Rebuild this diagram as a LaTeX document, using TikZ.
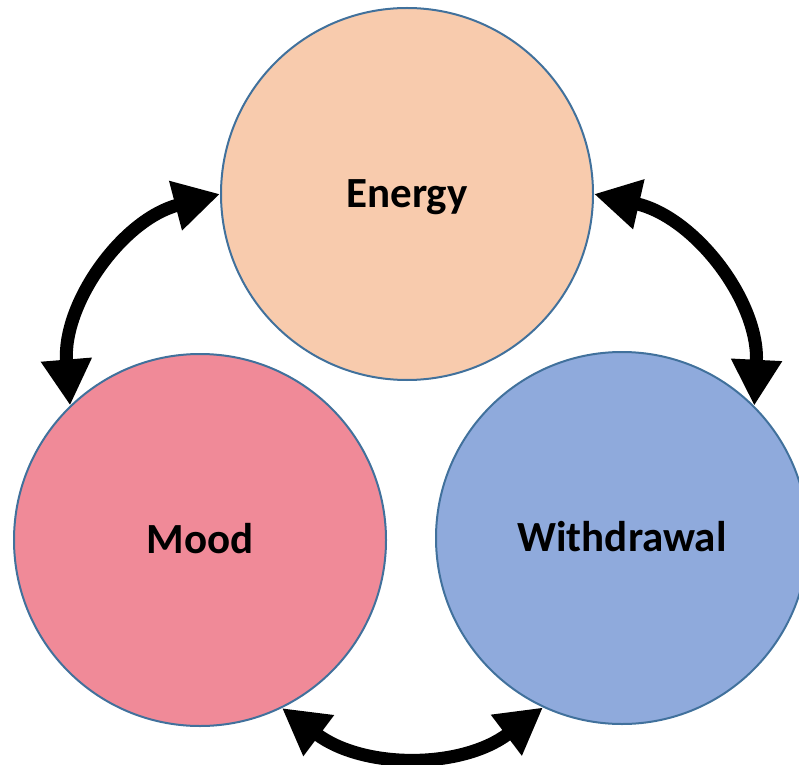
\documentclass[tikz,border=0pt]{standalone}
\usepackage{fontspec}
\setmainfont{Carlito}
\usetikzlibrary{arrows.meta}
\definecolor{energyfill}{HTML}{F8CBAD}
\definecolor{moodfill}{HTML}{F08A98}
\definecolor{withdrawfill}{HTML}{8FAADC}
\definecolor{rimblue}{HTML}{41719C}

\begin{document}
\begin{tikzpicture}[x=1pt,y=1pt,
  blob/.style={circle,draw=rimblue,line width=2pt,minimum size=372pt,inner sep=0pt,
               text height=27.7pt,text depth=0pt,
               font=\fontsize{43}{50}\selectfont\bfseries},
  a/.style={{Triangle[length=46pt,width=48pt]}-{Triangle[length=46pt,width=48pt]},line width=13pt,black}]
\clip (0,0) rectangle (799,764);
\node[blob,fill=energyfill] (energy) at (407,570) {Energy};
\node[blob,fill=moodfill] (mood) at (200,224) {Mood};
\node[blob,fill=withdrawfill] (withdraw) at (622,226) {Withdrawal};
\draw[a] (energy.west) to[bend right=40] (mood.134);
\draw[a] (energy.east) to[bend left=40] (withdraw.45);
\draw[a] (mood.-64) to[bend right=37] (withdraw.-115);
\end{tikzpicture}
\end{document}
